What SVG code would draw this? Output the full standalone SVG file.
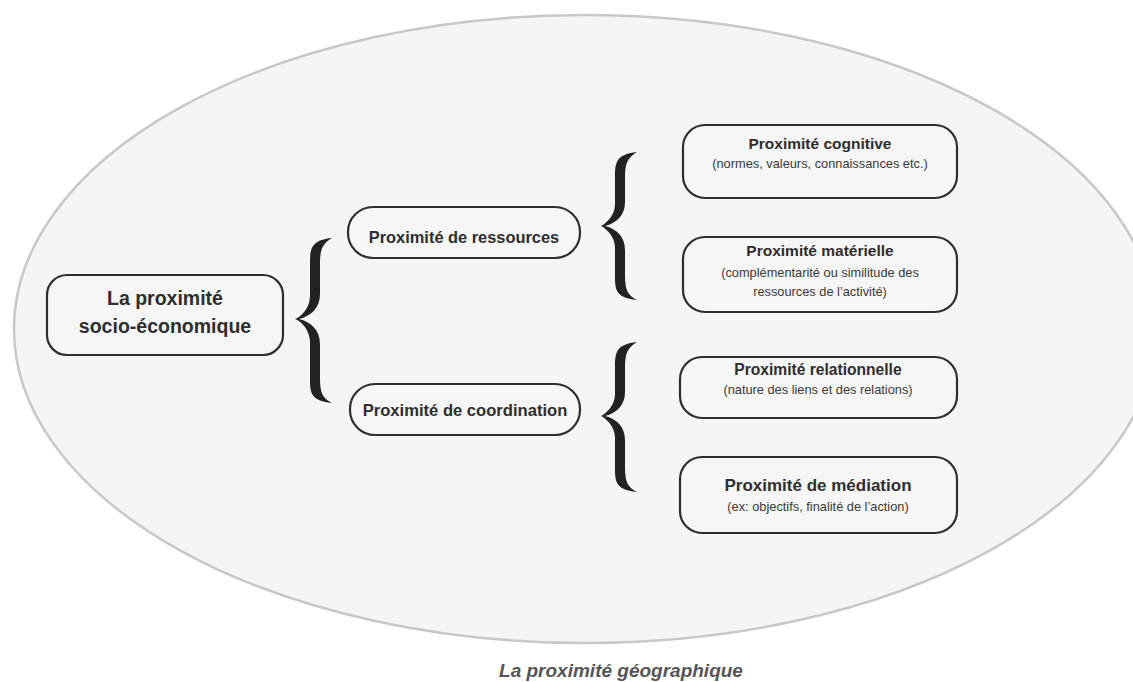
<svg xmlns="http://www.w3.org/2000/svg" width="1133" height="682" viewBox="0 0 1133 682">
<style>
.box{fill:#f6f6f6;stroke:#2e2e2e;stroke-width:2.2}
.t{font-family:"Liberation Sans",Arial,sans-serif;font-weight:bold;fill:#2e2e2e;text-anchor:middle}
.s{font-family:"Liberation Sans",Arial,sans-serif;fill:#3a3a3a;text-anchor:middle;font-size:12.8px}
.brace{fill:#222222}
</style>
<rect width="1133" height="682" fill="#ffffff"/>
<g id="geo">
<ellipse cx="585" cy="329" rx="571" ry="314" fill="#f5f5f5" stroke="#c8c8c8" stroke-width="2.5"/>
<text x="621" y="677" font-family="Liberation Sans, Arial, sans-serif" font-weight="bold" font-style="italic" font-size="19" fill="#555555" text-anchor="middle">La proximité géographique</text>
</g>
<g id="connectors">
<path class="brace" d="M332,238 C312,240 310,248 310,262 L310,296 C310,308 301,317 295,319 C301,321 310,330 310,342 L310,380 C310,394 312,401 332,403 C322,398 320,392 320,378 L320,344 C320,330 311,322 299,319 C311,316 320,308 320,294 L320,264 C320,250 322,244 332,238 Z"/>
<path class="brace" d="M637,152 C617,154 615,162 615,176 L615,204 C615,215 607,223 601,226 C607,229 615,237 615,248 L615,277 C615,291 617,298 637,300 C627,295 625,289 625,275 L625,250 C625,237 617,229 605,226 C617,223 625,215 625,202 L625,178 C625,164 627,158 637,152 Z"/>
<path class="brace" d="M637,342 C617,344 615,352 615,366 L615,394 C615,405 607,413 601,416 C607,419 615,427 615,438 L615,469 C615,483 617,490 637,492 C627,487 625,481 625,467 L625,440 C625,427 617,419 605,416 C617,413 625,405 625,392 L625,368 C625,354 627,348 637,342 Z"/>
</g>
<g id="node-socio">
<rect class="box" x="47" y="275" width="236" height="80" rx="20"/>
<text class="t" x="165" y="305" font-size="19.5">La proximité</text>
<text class="t" x="165" y="333" font-size="19.5">socio-économique</text>
</g>
<g id="node-ressources">
<rect class="box" x="348" y="207" width="232" height="51" rx="25"/>
<text class="t" x="464" y="243" font-size="16.4">Proximité de ressources</text>
</g>
<g id="node-coordination">
<rect class="box" x="350" y="384" width="230" height="51" rx="25"/>
<text class="t" x="465" y="416" font-size="16.6">Proximité de coordination</text>
</g>
<g id="node-cognitive">
<rect class="box" x="683" y="125" width="274" height="73" rx="22"/>
<text class="t" x="820" y="149" font-size="15.5">Proximité cognitive</text>
<text class="s" x="820" y="168">(normes, valeurs, connaissances etc.)</text>
</g>
<g id="node-materielle">
<rect class="box" x="683" y="237" width="274" height="75" rx="22"/>
<text class="t" x="820" y="256" font-size="15.5">Proximité matérielle</text>
<text class="s" x="820" y="277">(complémentarité ou similitude des</text>
<text class="s" x="820" y="296">ressources de l’activité)</text>
</g>
<g id="node-relationnelle">
<rect class="box" x="680" y="357" width="277" height="61" rx="22"/>
<text class="t" x="818" y="375" font-size="15.6">Proximité relationnelle</text>
<text class="s" x="818" y="394">(nature des liens et des relations)</text>
</g>
<g id="node-mediation">
<rect class="box" x="680" y="457" width="277" height="76" rx="22"/>
<text class="t" x="818" y="491" font-size="17">Proximité de médiation</text>
<text class="s" x="818" y="511">(ex: objectifs, finalité de l’action)</text>
</g>
</svg>
